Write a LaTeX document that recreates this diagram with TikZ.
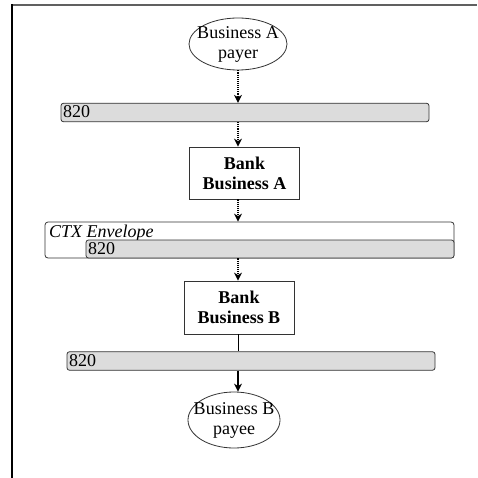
\documentclass[tikz,border=0pt]{standalone}
\usepackage{fontspec}
\setmainfont{Liberation Serif}
\usetikzlibrary{shapes.geometric,arrows.meta}

\definecolor{barfill}{HTML}{DCDCDC}
\definecolor{edgegray}{HTML}{333333}

\tikzset{
  party/.style={ellipse, draw=edgegray, line width=0.8pt, fill=white, inner sep=0pt},
  partytext/.style={align=center, font=\fontsize{18}{20}\selectfont, inner sep=0pt},
  bankbox/.style={rectangle, draw=edgegray, line width=0.8pt, fill=white,
    minimum width=110pt, align=center, font=\fontsize{18}{20}\selectfont\bfseries},
  msgbar/.style={rectangle, draw=edgegray, line width=0.8pt, fill=barfill,
    rounded corners=2.5pt, minimum width=368pt, minimum height=18.5pt,
    text width=364pt, align=left, inner xsep=2pt, inner ysep=0pt,
    text height=14pt, text depth=3pt, font=\fontsize{18}{20}\selectfont},
  envbox/.style={rectangle, draw=edgegray, line width=0.8pt, fill=white,
    rounded corners=3pt, inner sep=0pt},
  dotflow/.style={densely dotted, line width=1.1pt,
    -{Stealth[length=8pt, width=8pt, inset=2.5pt, sep=0pt]}},
  solidflow/.style={line width=1.1pt,
    -{Stealth[length=8pt, width=8pt, inset=2.5pt, sep=0pt]}},
  plainlink/.style={line width=0.8pt}
}

\begin{document}
\begin{tikzpicture}[x=1pt, y=-1pt]
  \useasboundingbox (0,0) rectangle (477,478);

  % page frame
  \draw[gray!75!black, line width=1.3pt] (11,5) -- (477,5);
  \draw[black, line width=1.6pt] (12,4.5) -- (12,478);

  % vertical axis of the flow
  \coordinate (axis) at (238,0);

  % originator
  \node[party, minimum width=98pt, minimum height=52pt] (payer) at (238,44) {};
  \node[partytext] (payertxt) at (payer) {Business A\\payer};

  % first 820 message
  \node[msgbar] (msgA) at (245,112.5) {820};

  % originating bank
  \node[bankbox, minimum height=52pt] (bankA) at (244.5,173) {Bank\\Business A};

  % CTX envelope carrying the 820
  \node[envbox, minimum width=409pt, minimum height=36pt] (env) at (249.5,240) {};
  \node[anchor=base west, inner sep=0pt, font=\fontsize{18}{20}\selectfont\itshape]
    (envlabel) at (49,237) {CTX Envelope};
  \node[msgbar, minimum width=368pt, minimum height=18pt] (msgEnv) at (270,249) {820};

  % receiving bank
  \node[bankbox, minimum height=53pt] (bankB) at (239,307.5) {Bank\\Business B};

  % 820 delivered to the payee
  \node[msgbar] (msgB) at (251,361) {820};

  % beneficiary
  \node[party, minimum width=92pt, minimum height=56pt] (payee) at (234,420) {};
  \node[partytext] (payeetxt) at (payee) {Business B\\payee};

  % flow connectors
  \draw[dotflow] (payer.south -| axis) -- (msgA.north -| axis);
  \draw[dotflow] (msgA.south -| axis) -- (bankA.north -| axis);
  \draw[dotflow] (bankA.south -| axis) -- (env.north -| axis);
  \draw[dotflow] (env.south -| axis) -- (bankB.north -| axis);
  \draw[plainlink] (bankB.south -| axis) -- (msgB.north -| axis);
  \draw[solidflow] (msgB.south -| axis) -- (payee.north -| axis);
\end{tikzpicture}
\end{document}
